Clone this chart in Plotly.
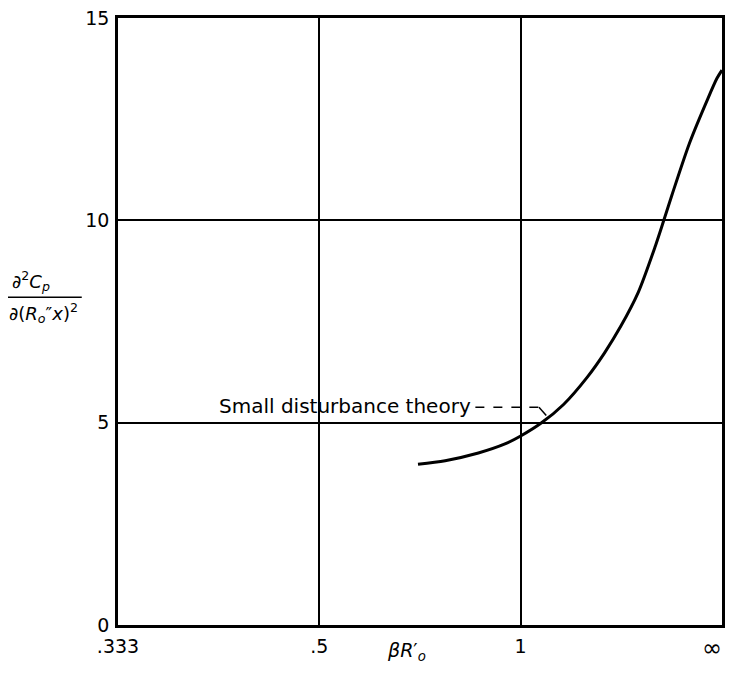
import plotly.graph_objects as go

# x coordinate is the reciprocal 1/(beta R0'); axis runs from 3 (.333) to 0 (infinity)
inv_beta_r = [1.51, 1.375, 1.21, 1.075, 1.0, 0.898, 0.787, 0.670, 0.584, 0.503,
              0.416, 0.330, 0.289, 0.249, 0.162, 0.076, 0.025, 0.0]
d2cp = [3.97, 4.06, 4.25, 4.48, 4.67, 4.99, 5.45, 6.12, 6.72, 7.38,
        8.22, 9.38, 10.0, 10.62, 11.90, 12.94, 13.51, 13.71]

x_tick_pos = [3, 2, 1, 0]
x_tick_text = [".333", ".5", "1", "∞"]
y_tick_pos = [0, 5, 10, 15]
y_tick_text = ["0", "5", "10", "15"]

font_fam = "DejaVu Sans"

fig = go.Figure()
fig.add_trace(go.Scatter(x=inv_beta_r, y=d2cp, mode="lines",
                         line=dict(color="black", width=3, shape="spline", smoothing=0.8),
                         showlegend=False, hoverinfo="skip"))

# leader line of the annotation
fig.add_shape(type="line", x0=1.225, y0=5.38, x1=0.909, y1=5.38, xref="x", yref="y",
              line=dict(color="black", width=1.5, dash="dash"))
fig.add_shape(type="line", x0=0.909, y0=5.38, x1=0.873, y1=5.18, xref="x", yref="y",
              line=dict(color="black", width=1.5))
fig.add_annotation(x=1.235, y=5.42, xref="x", yref="y", text="Small disturbance theory",
                   showarrow=False, xanchor="right", yanchor="middle",
                   font=dict(family=font_fam, size=20, color="black"))

# y axis title as a fraction
fig.add_annotation(x=-0.179, y=0.567, xref="paper", yref="paper",
                   text="∂<sup>2</sup><i>C<sub>p</sub></i>", showarrow=False,
                   xanchor="left", yanchor="middle",
                   font=dict(family=font_fam, size=18, color="black"))
fig.add_annotation(x=-0.184, y=0.514, xref="paper", yref="paper",
                   text="∂(<i>R<sub>o</sub></i>″<i>x</i>)<sup>2</sup>", showarrow=False,
                   xanchor="left", yanchor="middle",
                   font=dict(family=font_fam, size=18, color="black"))
fig.add_shape(type="line", x0=-0.184, x1=-0.060, y0=0.540, y1=0.540,
              xref="paper", yref="paper", line=dict(color="black", width=1.5))

# x axis title
fig.add_annotation(x=0.478, y=-0.044, xref="paper", yref="paper",
                   text="<i>βR</i>′<sub><i>o</i></sub>", showarrow=False,
                   xanchor="center", yanchor="middle",
                   font=dict(family=font_fam, size=19, color="black"))

# the last x tick label (infinity) is placed so it stays inside the figure edge
fig.add_annotation(x=1.004, y=-0.012, xref="paper", yref="paper",
                   text=x_tick_text[-1], showarrow=False,
                   xanchor="right", yanchor="top",
                   font=dict(family=font_fam, size=24, color="black"))

# page body has an 8px default margin, so the figure is sized to fit inside it
fig.update_layout(
    width=717, height=657,
    margin=dict(l=110, r=3, t=10, b=40, autoexpand=False),
    plot_bgcolor="white", paper_bgcolor="white",
    font=dict(family=font_fam, size=19, color="black"),
    xaxis=dict(range=[3, 0], tickvals=x_tick_pos, ticktext=x_tick_text[:-1] + [""],
               showgrid=True, gridcolor="black", gridwidth=2, zeroline=False,
               showline=True, linecolor="black", linewidth=2.5, mirror=True,
               ticks="", ticklabelstandoff=2, ticklabeloverflow="allow",
               automargin=False, fixedrange=True),
    yaxis=dict(range=[0, 15], tickvals=y_tick_pos, ticktext=y_tick_text,
               showgrid=True, gridcolor="black", gridwidth=2, zeroline=False,
               showline=True, linecolor="black", linewidth=2.5, mirror=True,
               ticks="", ticklabelstandoff=2, ticklabeloverflow="allow",
               automargin=False, fixedrange=True),
)

fig.write_html("out.html")
